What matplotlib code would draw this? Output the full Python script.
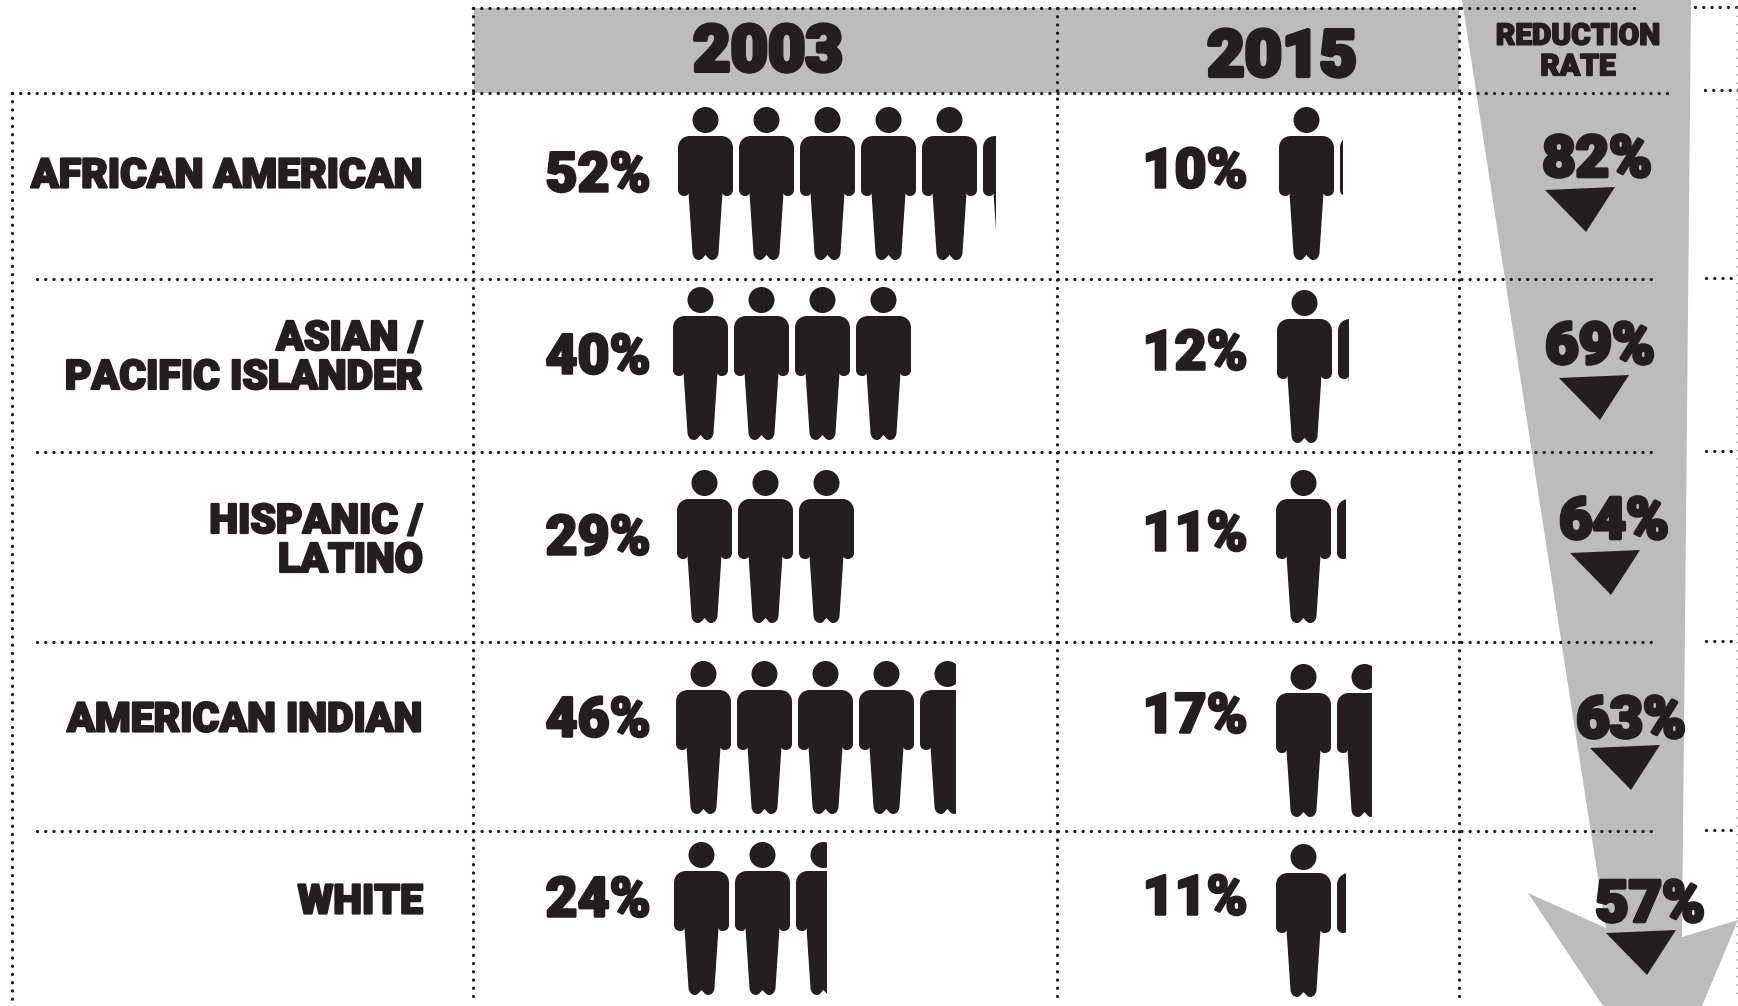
import matplotlib
matplotlib.use("Agg")
import matplotlib.pyplot as plt
import matplotlib.patheffects as pe
from matplotlib.path import Path
from matplotlib.patches import PathPatch, Polygon, Rectangle
from matplotlib.transforms import Affine2D

# data
groups = ["AFRICAN AMERICAN", "ASIAN /\nPACIFIC ISLANDER", "HISPANIC /\nLATINO", "AMERICAN INDIAN", "WHITE"]
pct_2003 = [52, 40, 29, 46, 24]
pct_2015 = [10, 12, 11, 17, 11]
reduction = [82, 69, 64, 63, 57]
# how many figures are drawn
people_2003 = [5.24, 4, 3, 4.65, 2.56]
people_2015 = [1.05, 1.2, 1.17, 1.64, 1.17]
years = ["2003", "2015"]

# layout, all in pixels of the 1738x1006 picture
W, H = 1738, 1006
GRAY = "#bcbcbc"
INK = "#231f20"
FONT = ["Roboto", "Lato", "DejaVu Sans"]
row_lines = [93, 279, 452, 642, 831]
label_y = [176, 358, 541, 720, 902]
pct03_y = [176, 358, 539, 721, 901]
pct15_y = [172, 354, 535, 717, 899]
red_x = [1597, 1600, 1614, 1631, 1650]
red_y = [161, 348, 523, 722, 906]
tri_x = [1545, 1559, 1570, 1590, 1606]
tri_y = [187, 375, 550, 745, 930]
people03_x = [678, 673, 677, 676, 674]
people03_y = [107, 287, 470, 661, 842]
people15_x = [1279, 1277, 1276, 1276, 1276]
people15_y = [107, 290, 470, 664, 844]
col_x = [12, 473, 1057, 1459]
PERSON_W, PERSON_H, PITCH = 55, 153, 61


def person_path():
    """One figure, origin at its top left corner, y going down."""
    M, L, C, Z = Path.MOVETO, Path.LINETO, Path.CURVE4, Path.CLOSEPOLY
    k = 0.5523
    cx, cy, r = 27.5, 13, 13
    v = [(cx + r, cy), (cx + r, cy + k*r), (cx + k*r, cy + r), (cx, cy + r),
         (cx - k*r, cy + r), (cx - r, cy + k*r), (cx - r, cy),
         (cx - r, cy - k*r), (cx - k*r, cy - r), (cx, cy - r),
         (cx + k*r, cy - r), (cx + r, cy - k*r), (cx + r, cy), (cx + r, cy)]
    c = [M] + [C]*12 + [Z]
    body = [(12, 29), (43, 29), (50, 29), (55, 34), (55, 41),
            (55, 83), (55, 87), (52, 89), (49, 89), (46, 89), (45, 88), (44.5, 86),
            (40.5, 146), (40, 151), (37, 153), (34, 153),
            (31, 153), (29.5, 150), (27.5, 148), (25.5, 150), (24, 153), (21, 153),
            (18, 153), (15, 151), (14.5, 146),
            (10.5, 86), (10, 88), (9, 89), (6, 89), (3, 89), (0, 87), (0, 83),
            (0, 41), (0, 34), (5, 29), (12, 29), (12, 29)]
    bc = [M, L, C, C, C, L, C, C, C, C, C, C,
          L, C, C, C, C, C, C, C, C, C, C, C, C,
          L, C, C, C, C, C, C, L, C, C, C, Z]
    return Path(v + body, c + bc)


PERSON = person_path()


def draw_people(ax, x, y, count):
    whole = int(count)
    part = count - whole
    end = x + whole*PITCH + part*PERSON_W if part else x + whole*PITCH
    clip = Rectangle((x - 1, y - 1), end - x + 1, PERSON_H + 2, transform=ax.transData)
    n = whole + (1 if part else 0)
    for i in range(n):
        pp = PathPatch(PERSON, fc=INK, ec="none",
                       transform=Affine2D().translate(x + i*PITCH, y) + ax.transData)
        ax.add_patch(pp)
        pp.set_clip_path(clip)


def dotted(ax, xs, ys):
    # 8.2 px between dots
    ax.plot(xs, ys, color=INK, lw=2.4, dash_capstyle="round",
            linestyle=(0, (0.01, 2.46)), zorder=3)


def heavy(ax, x, y, s, size, ha="center", width=1.0, spacing=1.0):
    t = ax.text(x, y, s, fontsize=size, ha=ha, va="center", color=INK, family=FONT,
                fontweight="black", zorder=5, linespacing=spacing)
    t.set_path_effects([pe.withStroke(linewidth=width, foreground=INK)])
    return t


def main():
    fig = plt.figure(figsize=(W/100, H/100), dpi=100)
    ax = fig.add_axes([0, 0, 1, 1])
    ax.set_xlim(0, W)
    ax.set_ylim(H, 0)
    ax.axis("off")

    # header band and the big arrow
    ax.add_patch(Rectangle((474, 8), 985, 85, fc=GRAY, ec="none", zorder=1))
    arrow = [(1462, 0), (1691, 0), (1682, 937), (1738, 920), (1702, 1006), (1603, 1006),
             (1528, 893), (1606, 928), (1589, 820), (1502, 260)]
    ax.add_patch(Polygon(arrow, closed=True, fc=GRAY, ec="none", zorder=2))

    # grid of dots
    dotted(ax, [473, 1640], [8, 8])
    dotted(ax, [1695, W], [7, 7])
    dotted(ax, [12, 1667], [row_lines[0], row_lines[0]])
    dotted(ax, [1705, W], [90, 90])
    for y in row_lines[1:]:
        dotted(ax, [37, 1658], [y, y])
        dotted(ax, [1706, W], [y - 1, y - 1])
    dotted(ax, [col_x[0], col_x[0]], [93, 1000])
    for x in col_x[1:]:
        dotted(ax, [x, x], [8, 998])
    ax.plot([W - 1, W - 1], [8, 1000], color="#999999", lw=1.2,
            dash_capstyle="round", linestyle=(0, (0.01, 5)), zorder=3)

    # header text
    heavy(ax, 768, 53, years[0], 46.5, width=3.0)
    heavy(ax, 1282, 58, years[1], 46.5, width=3.0)
    heavy(ax, 1578, 52, "REDUCTION\nRATE", 21.5, width=1.2, spacing=1.12)

    for i in range(len(groups)):
        heavy(ax, 423, label_y[i], groups[i], 29.4, ha="right", width=1.6)
        heavy(ax, 598, pct03_y[i], f"{pct_2003[i]}%", 39.8, width=1.8)
        heavy(ax, 1195, pct15_y[i], f"{pct_2015[i]}%", 39.8, width=1.8)
        draw_people(ax, people03_x[i], people03_y[i], people_2003[i])
        draw_people(ax, people15_x[i], people15_y[i], people_2015[i])
        heavy(ax, red_x[i], red_y[i], f"{reduction[i]}%", 41.5, width=2.6)
        tx, ty = tri_x[i], tri_y[i]
        ax.add_patch(Polygon([(tx, ty + 3), (tx + 70, ty), (tx + 41, ty + 45)], closed=True,
                             fc=INK, ec="none", zorder=5))

    fig.savefig("out.png", dpi=100)


if __name__ == "__main__":
    main()
